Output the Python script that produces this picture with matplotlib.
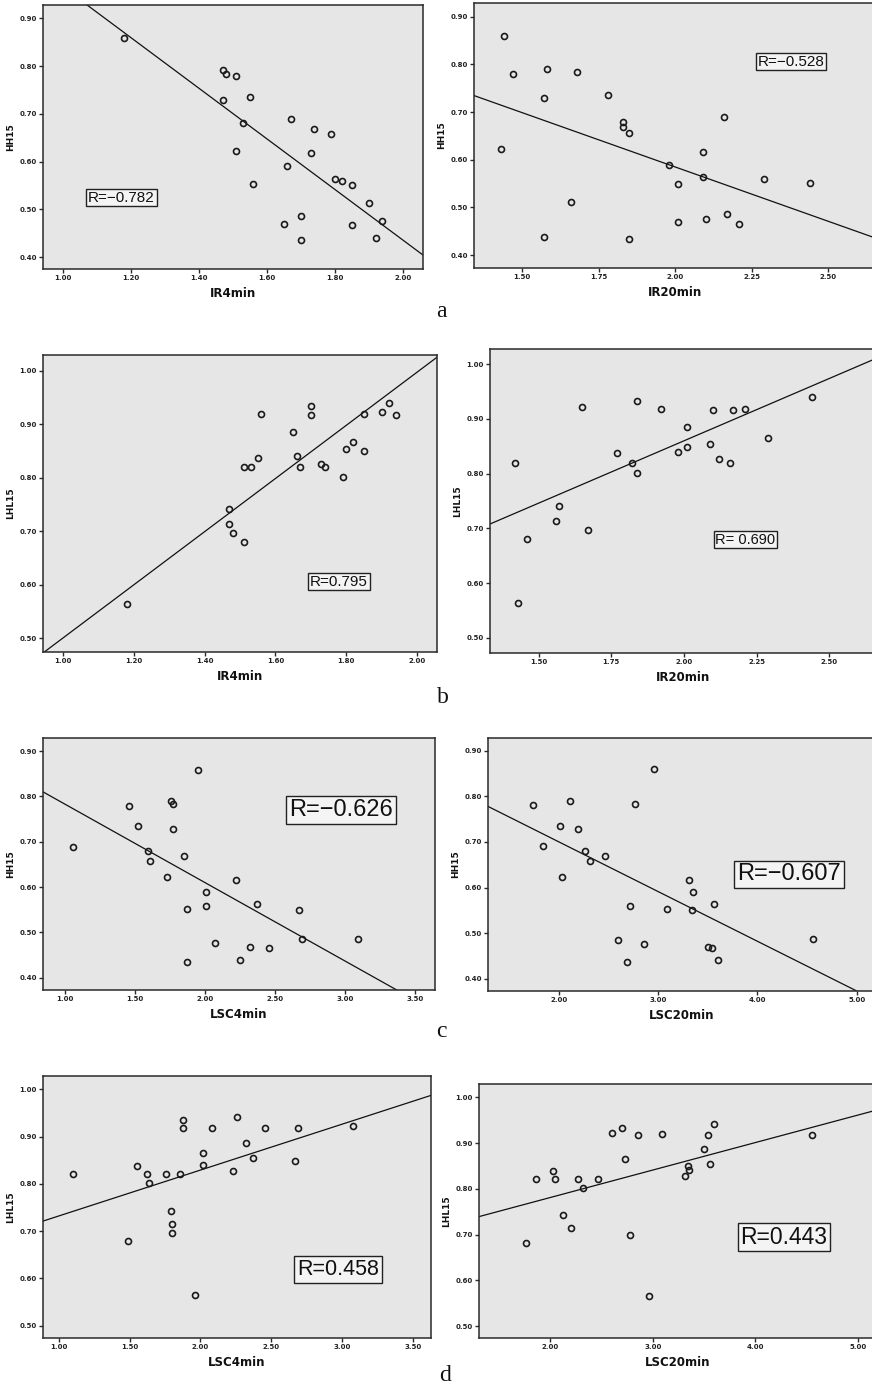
import matplotlib
matplotlib.use("Agg")
import matplotlib.pyplot as plt
import numpy as np

W, H = 872, 1385

# ---------------- data ----------------
# Panel a-left: IR4min vs HH15
a1_x = [1.18, 1.47, 1.48, 1.51, 1.47, 1.55, 1.53, 1.51, 1.56, 1.67, 1.74, 1.79,
        1.73, 1.66, 1.80, 1.82, 1.85, 1.90, 1.94, 1.70, 1.65, 1.70, 1.85, 1.92]
a1_y = [0.859, 0.791, 0.784, 0.779, 0.730, 0.735, 0.680, 0.622, 0.553, 0.690, 0.669, 0.657,
        0.617, 0.590, 0.564, 0.560, 0.551, 0.513, 0.476, 0.487, 0.469, 0.435, 0.467, 0.440]
# Panel a-right: IR20min vs HH15
a2_x = [1.44, 1.47, 1.58, 1.68, 1.57, 1.78, 1.43, 1.83, 1.83, 1.85, 2.16, 2.09,
        1.98, 2.09, 2.01, 2.29, 2.44, 1.66, 1.57, 1.85, 2.01, 2.10, 2.17, 2.21]
a2_y = [0.859, 0.780, 0.790, 0.785, 0.729, 0.735, 0.622, 0.679, 0.669, 0.657, 0.690, 0.616,
        0.589, 0.563, 0.550, 0.559, 0.552, 0.512, 0.439, 0.434, 0.469, 0.476, 0.486, 0.466]
# Panel b-left: IR4min vs LHL15
b1_x = [1.18, 1.47, 1.47, 1.48, 1.51, 1.51, 1.53, 1.55, 1.56, 1.65, 1.70, 1.70,
        1.66, 1.67, 1.73, 1.74, 1.79, 1.80, 1.82, 1.85, 1.85, 1.90, 1.92, 1.94]
b1_y = [0.564, 0.742, 0.714, 0.697, 0.680, 0.820, 0.820, 0.837, 0.919, 0.886, 0.933, 0.917,
        0.840, 0.820, 0.826, 0.820, 0.801, 0.854, 0.866, 0.849, 0.918, 0.922, 0.940, 0.917]
# Panel b-right: IR20min vs LHL15
b2_x = [1.42, 1.43, 1.46, 1.56, 1.57, 1.67, 1.65, 1.77, 1.82, 1.84, 1.84, 1.92,
        1.98, 2.01, 2.01, 2.09, 2.10, 2.12, 2.16, 2.17, 2.21, 2.29, 2.44]
b2_y = [0.820, 0.564, 0.680, 0.714, 0.741, 0.697, 0.922, 0.837, 0.820, 0.801, 0.933, 0.919,
        0.840, 0.886, 0.849, 0.854, 0.916, 0.826, 0.820, 0.916, 0.918, 0.866, 0.940]
# Panel c-left: LSC4min vs HH15
c1_x = [1.06, 1.46, 1.52, 1.59, 1.61, 1.73, 1.76, 1.77, 1.77, 1.85, 1.87, 1.87,
        1.95, 2.01, 2.01, 2.07, 2.22, 2.25, 2.32, 2.37, 2.46, 2.67, 2.69, 3.09]
c1_y = [0.689, 0.779, 0.735, 0.679, 0.657, 0.622, 0.790, 0.784, 0.729, 0.669, 0.552, 0.435,
        0.859, 0.589, 0.559, 0.476, 0.616, 0.439, 0.468, 0.563, 0.466, 0.550, 0.486, 0.485]
# Panel c-right: LSC20min vs HH15
c2_x = [1.74, 1.84, 2.01, 2.03, 2.11, 2.19, 2.26, 2.31, 2.46, 2.59, 2.69, 2.72,
        2.77, 2.86, 2.96, 3.09, 3.31, 3.35, 3.34, 3.50, 3.54, 3.56, 3.60, 4.56]
c2_y = [0.780, 0.690, 0.735, 0.623, 0.790, 0.729, 0.680, 0.658, 0.670, 0.485, 0.436, 0.560,
        0.784, 0.476, 0.859, 0.553, 0.617, 0.590, 0.551, 0.469, 0.467, 0.564, 0.440, 0.487]
# Panel d-left: LSC4min vs LHL15
d1_x = [1.10, 1.49, 1.55, 1.62, 1.64, 1.76, 1.79, 1.80, 1.80, 1.86, 1.88, 1.88,
        1.96, 2.02, 2.02, 2.08, 2.23, 2.26, 2.32, 2.37, 2.46, 2.67, 2.69, 3.08]
d1_y = [0.820, 0.680, 0.837, 0.820, 0.801, 0.820, 0.742, 0.715, 0.697, 0.820, 0.934, 0.919,
        0.565, 0.866, 0.840, 0.917, 0.827, 0.941, 0.887, 0.854, 0.919, 0.849, 0.917, 0.923]
# Panel d-right: LSC20min vs LHL15
d2_x = [1.76, 1.86, 2.03, 2.05, 2.12, 2.20, 2.27, 2.32, 2.47, 2.60, 2.70, 2.73,
        2.78, 2.86, 2.96, 3.09, 3.31, 3.34, 3.35, 3.50, 3.54, 3.56, 3.60, 4.55]
d2_y = [0.681, 0.821, 0.838, 0.821, 0.743, 0.715, 0.821, 0.802, 0.821, 0.923, 0.933, 0.866,
        0.698, 0.917, 0.565, 0.920, 0.827, 0.849, 0.841, 0.887, 0.918, 0.855, 0.941, 0.917]

# fitted lines: (slope, intercept)
fit_a1 = (-0.529, 1.494)
fit_a2 = (-0.228, 1.041)
fit_b1 = (0.497, 0.003)
fit_b2 = (0.228, 0.404)
fit_c1 = (-0.173, 0.956)
fit_c2 = (-0.109, 0.918)
fit_d1 = (0.097, 0.635)
fit_d2 = (0.060, 0.661)

r_labels = ["R=\u22120.782", "R=\u22120.528", "R=0.795", "R= 0.690",
            "R=\u22120.626", "R=\u22120.607", "R=0.458", "R=0.443"]
x_labels = ["IR4min", "IR20min", "IR4min", "IR20min",
            "LSC4min", "LSC20min", "LSC4min", "LSC20min"]
y_labels = ["HH15", "HH15", "LHL15", "LHL15", "HH15", "HH15", "LHL15", "LHL15"]
panel_letters = ["a", "b", "c", "d"]

xt_ir4 = [1.00, 1.20, 1.40, 1.60, 1.80, 2.00]
xt_ir20 = [1.50, 1.75, 2.00, 2.25, 2.50]
xt_lsc4 = [1.00, 1.50, 2.00, 2.50, 3.00, 3.50]
xt_lsc20 = [2.00, 3.00, 4.00, 5.00]
yt_hh = [0.40, 0.50, 0.60, 0.70, 0.80, 0.90]
yt_lhl = [0.50, 0.60, 0.70, 0.80, 0.90, 1.00]

# ---------------- layout ----------------
# box in pixels (left, top, right, bottom), xlim, ylim
panels = [
    dict(x=a1_x, y=a1_y, fit=fit_a1, box=(43, 5, 423, 269), xlim=(0.94, 2.06), ylim=(0.375, 0.928),
         xt=xt_ir4, yt=yt_hh, r_pos=(121.5, 197.5), r_fs=11),
    dict(x=a2_x, y=a2_y, fit=fit_a2, box=(474, 3, 876, 268), xlim=(1.343, 2.656), ylim=(0.373, 0.929),
         xt=xt_ir20, yt=yt_hh, r_pos=(791, 61.5), r_fs=11),
    dict(x=b1_x, y=b1_y, fit=fit_b1, box=(43, 355, 437, 652), xlim=(0.944, 2.056), ylim=(0.474, 1.029),
         xt=xt_ir4, yt=yt_lhl, r_pos=(339, 581.5), r_fs=11),
    dict(x=b2_x, y=b2_y, fit=fit_b2, box=(490, 349, 876, 653), xlim=(1.333, 2.661), ylim=(0.472, 1.028),
         xt=xt_ir20, yt=yt_lhl, r_pos=(745.5, 539.5), r_fs=10.5),
    dict(x=c1_x, y=c1_y, fit=fit_c1, box=(43, 738, 435, 990), xlim=(0.843, 3.643), ylim=(0.373, 0.929),
         xt=xt_lsc4, yt=yt_hh, r_pos=(341, 810), r_fs=17),
    dict(x=c2_x, y=c2_y, fit=fit_c2, box=(488, 738, 876, 991), xlim=(1.285, 5.194), ylim=(0.373, 0.928),
         xt=xt_lsc20, yt=yt_hh, r_pos=(789, 874.5), r_fs=17),
    dict(x=d1_x, y=d1_y, fit=fit_d1, box=(43, 1076, 431, 1338), xlim=(0.889, 3.629), ylim=(0.474, 1.028),
         xt=xt_lsc4, yt=yt_lhl, r_pos=(338, 1269.5), r_fs=15.5),
    dict(x=d2_x, y=d2_y, fit=fit_d2, box=(479, 1084, 876, 1338), xlim=(1.304, 5.178), ylim=(0.474, 1.029),
         xt=xt_lsc20, yt=yt_lhl, r_pos=(784, 1237), r_fs=16.5),
]
letter_pos = [(441, 317), (443, 703), (441, 1037), (445, 1381)]

BG = "#e6e6e6"
EDGE = "#2a2a2a"

fig = plt.figure(figsize=(W / 100, H / 100), dpi=100)
fig.patch.set_facecolor("white")

for i, p in enumerate(panels):
    l, t, r, b = p["box"]
    ax = fig.add_axes([l / W, 1 - b / H, (r - l) / W, (b - t) / H])
    ax.set_facecolor(BG)
    ax.set_xlim(*p["xlim"])
    ax.set_ylim(*p["ylim"])
    ax.plot(p["x"], p["y"], linestyle="none", marker="o", markersize=4.3,
            markerfacecolor="none", markeredgecolor="#1a1a1a", markeredgewidth=1.2, zorder=3)
    slope, icpt = p["fit"]
    ax.axline((0, icpt), slope=slope, color="#111111", linewidth=0.9, zorder=2)
    ax.set_xticks(p["xt"])
    ax.set_yticks(p["yt"])
    ax.set_xticklabels([f"{v:.2f}" for v in p["xt"]])
    ax.set_yticklabels([f"{v:.2f}" for v in p["yt"]])
    ax.tick_params(axis="both", direction="out", length=3, width=1.0, color=EDGE,
                   labelsize=5, pad=1.5)
    for lab in ax.get_xticklabels() + ax.get_yticklabels():
        lab.set_fontweight("bold")
        lab.set_color("#222222")
    for s in ax.spines.values():
        s.set_color(EDGE)
        s.set_linewidth(1.1)
    ax.set_xlabel(x_labels[i], fontsize=8.5, fontweight="bold", family="DejaVu Sans",
                  labelpad=4, color="#111111")
    ax.set_ylabel(y_labels[i], fontsize=6.5, fontweight="bold", family="DejaVu Sans",
                  labelpad=3, color="#111111")
    rx, ry = p["r_pos"]
    fig.text(rx / W, 1 - ry / H, r_labels[i], fontsize=p["r_fs"],
             family=["Liberation Sans", "DejaVu Sans"], ha="center", va="center",
             color="#111111",
             bbox=dict(boxstyle="square,pad=0.12", facecolor="#f4f4f4",
                       edgecolor="#222222", linewidth=1.0))

for letter, (lx, ly) in zip(panel_letters, letter_pos):
    fig.text(lx / W, 1 - ly / H, letter, fontsize=17, family="Liberation Serif",
             ha="center", va="baseline", color="#111111")

fig.savefig("out.png", dpi=100, facecolor="white")
